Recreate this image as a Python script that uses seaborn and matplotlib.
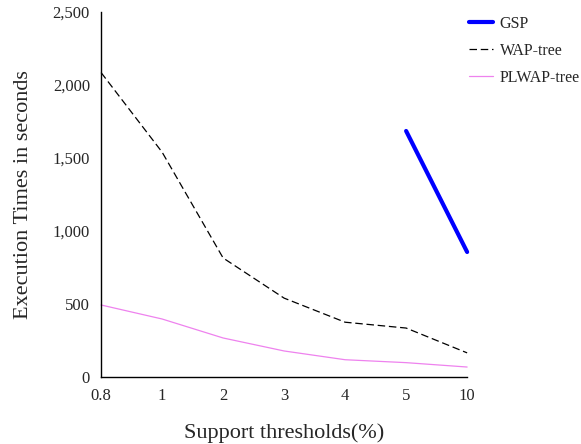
import numpy as np
import pandas as pd
import seaborn as sns
import matplotlib.pyplot as plt

thresholds = ["0.8", "1", "2", "3", "4", "5", "10"]
gsp = [np.nan, np.nan, np.nan, np.nan, np.nan, 1685, 856]
wap_tree = [2085, 1540, 815, 540, 375, 335, 165]
plwap_tree = [493, 397, 267, 178, 118, 98, 68]

df = pd.DataFrame({"threshold": thresholds * 3,
                   "time": gsp + wap_tree + plwap_tree,
                   "algo": ["GSP"] * 7 + ["WAP-tree"] * 7 + ["PLWAP-tree"] * 7})
df["pos"] = np.tile(np.arange(len(thresholds)), 3)

sns.set_style("white")
plt.rcParams['font.family'] = ['Liberation Serif', 'DejaVu Serif']

fig = plt.figure(figsize=(5.81, 4.44), dpi=100)
ax = fig.add_axes([0.174, 0.151, 0.63, 0.822])

colors = {"GSP": "#0000ff", "WAP-tree": "black", "PLWAP-tree": "#ee82ee"}
widths = {"GSP": 3, "WAP-tree": 0.9, "PLWAP-tree": 0.9}
styles = {"GSP": "-", "WAP-tree": (0, (6, 3)), "PLWAP-tree": "-"}
for name in ["GSP", "WAP-tree", "PLWAP-tree"]:
    sub = df[df["algo"] == name]
    sns.lineplot(data=sub, x="pos", y="time", ax=ax, color=colors[name],
                 lw=widths[name], linestyle=styles[name], label=name)
for ln in ax.lines:
    ln.set_clip_on(False)

ax.set_xlim(0, len(thresholds) - 1)
ax.set_ylim(0, 2500)
ax.set_xticks(range(len(thresholds)))
ax.set_xticklabels(thresholds)
ax.set_yticks([0, 500, 1000, 1500, 2000, 2500])
ax.set_yticklabels(["0", "500", "1,000", "1,500", "2,000", "2,500"])
ax.tick_params(axis="both", length=0, labelsize=12, pad=8)
ax.set_xlabel("Support thresholds(%)", fontsize=16, labelpad=14)
ax.set_ylabel("Execution Times in seconds", fontsize=16, labelpad=14)
for s in ["top", "right"]:
    ax.spines[s].set_visible(False)
for s in ["left", "bottom"]:
    ax.spines[s].set_color("black")
    ax.spines[s].set_linewidth(1)

ax.legend(loc="upper left", bbox_to_anchor=(0.808, 0.965), bbox_transform=fig.transFigure,
          frameon=False, fontsize=11.5, handlelength=1.5, handletextpad=0.4,
          labelspacing=0.7, borderaxespad=0, borderpad=0)

fig.savefig("out.png", dpi=100)
